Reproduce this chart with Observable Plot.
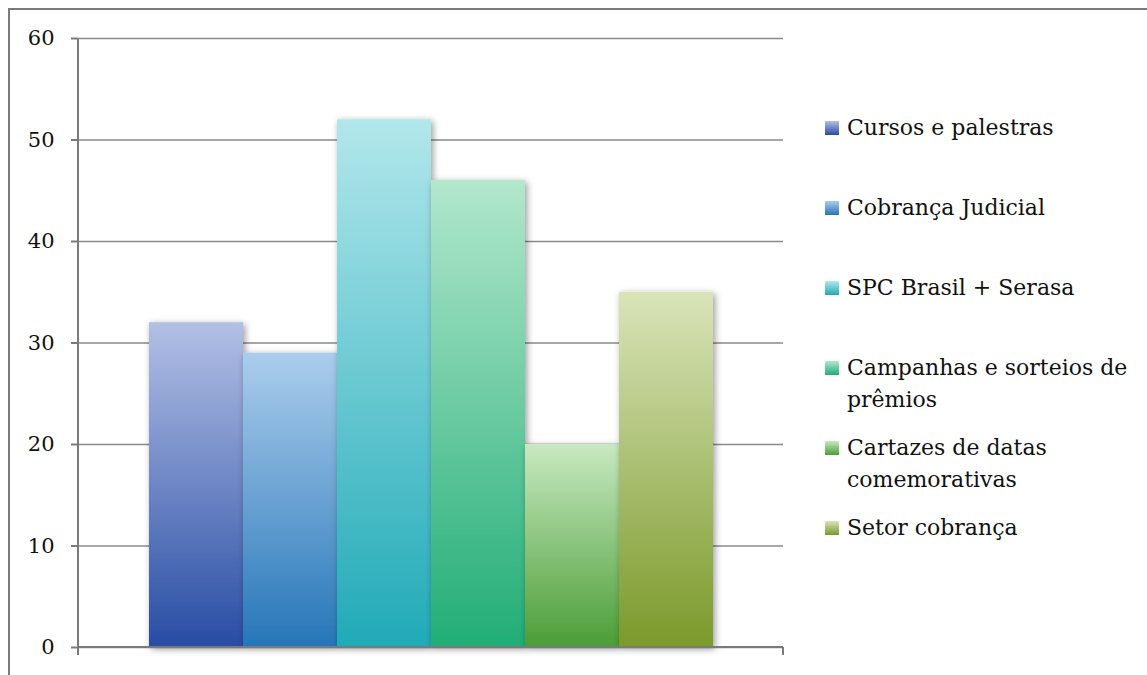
<!DOCTYPE html>
<html>
<head>
<meta charset="utf-8">
<script src="https://cdn.jsdelivr.net/npm/d3@7"></script>
<script src="https://cdn.jsdelivr.net/npm/@observablehq/plot@0.6"></script>
<style>
  html, body { margin: 0; padding: 0; background: #fff; }
  body { width: 1147px; height: 675px; position: relative; overflow: hidden; font-family: "DejaVu Serif", serif; }
  #frame { position: absolute; left: 8px; top: 8px; width: 1200px; height: 720px; border-left: 2px solid #7a7a7a; border-top: 2px solid #7a7a7a; box-sizing: border-box; }
  #chart { position: absolute; left: 0; top: 0; }
  #chart svg text { font-family: "DejaVu Serif", serif; }
  #legend { position: absolute; left: 825px; top: 112px; }
  .item { display: flex; align-items: flex-start; height: 80px; }
  .sw { width: 14px; height: 14px; margin-top: 9px; margin-right: 8px; flex: none; }
  .lab { width: 300px; font-family: "DejaVu Serif", serif; font-size: 22px; line-height: 32px; color: #111; }
</style>
</head>
<body>
<div id="frame"></div>
<div id="chart"></div>
<div id="legend"></div>
<script>
const categories = ["Cursos e palestras", "Cobrança Judicial", "SPC Brasil + Serasa", "Campanhas e sorteios de prêmios", "Cartazes de datas comemorativas", "Setor cobrança"];
const values = [32, 29, 52, 46, 20, 35];
const topColors = ["#b3c0e5", "#abcdec", "#b2e7eb", "#b2e7cd", "#c8e9c1", "#d9e4b9"];
const bottomColors = ["#284ca4", "#2676b8", "#20aab7", "#21ad76", "#4b9d37", "#7b992a"];
const yTicks = [0, 10, 20, 30, 40, 50, 60];

const data = categories.map((c, i) => ({cat: c, value: values[i], grad: `url(#grad${i})`}));

const defsMark = (index, scales, values_, dims) => {
  const g = d3.create("svg:g");
  const defs = g.append("defs");
  categories.forEach((c, i) => {
    const lg = defs.append("linearGradient").attr("id", `grad${i}`).attr("x1", 0).attr("y1", 0).attr("x2", 0).attr("y2", 1);
    lg.append("stop").attr("offset", "0%").attr("stop-color", topColors[i]);
    lg.append("stop").attr("offset", "100%").attr("stop-color", bottomColors[i]);
  });
  const f = defs.append("filter").attr("id", "barShadow").attr("x", "-20%").attr("y", "-10%").attr("width", "140%").attr("height", "120%");
  f.append("feDropShadow").attr("dx", 2).attr("dy", 2).attr("stdDeviation", 3.5).attr("flood-color", "#000").attr("flood-opacity", 0.4);
  return g.node();
};

const axisLines = (index, scales, values_, dims) => {
  const g = d3.create("svg:g").attr("stroke", "#7a7a7a").attr("stroke-width", 2);
  const x0 = dims.marginLeft, x1 = dims.width - dims.marginRight;
  const yTop = scales.y(d3.max(yTicks)), yBot = scales.y(0);
  g.append("line").attr("x1", x0).attr("x2", x0).attr("y1", yTop).attr("y2", yBot + 8);
  g.append("line").attr("x1", x1).attr("x2", x1).attr("y1", yBot).attr("y2", yBot + 8);
  g.append("line").attr("x1", x0).attr("x2", x1).attr("y1", yBot).attr("y2", yBot);
  return g.node();
};

const chart = Plot.plot({
  width: 800,
  height: 675,
  marginLeft: 78,
  marginRight: 17,
  marginTop: 38,
  marginBottom: 28,
  style: {fontFamily: "'DejaVu Serif', serif", background: "transparent"},
  x: {type: "band", domain: categories, paddingInner: 0, paddingOuter: 0.75, axis: null},
  y: {domain: [0, 60], axis: null},
  color: {type: "identity"},
  marks: [
    defsMark,
    Plot.ruleY(yTicks, {stroke: "#8a8a8a", strokeWidth: 1.6}),
    Plot.barY(data, {x: "cat", y: "value", fill: "grad"}),
    axisLines,
    Plot.axisY({ticks: yTicks, tickSize: 7, tickPadding: 17, stroke: "#7a7a7a", strokeWidth: 2, fill: "#111", fontSize: 21, fontFamily: "DejaVu Serif", label: null})
  ]
});
d3.select(chart).selectAll("rect").attr("filter", "url(#barShadow)");
document.getElementById("chart").appendChild(chart);

const legend = d3.select("#legend");
categories.forEach((c, i) => {
  const item = legend.append("div").attr("class", "item");
  item.append("div").attr("class", "sw").style("background", `linear-gradient(to bottom, ${topColors[i]}, ${bottomColors[i]})`);
  item.append("div").attr("class", "lab").text(c);
});
</script>
</body>
</html>
